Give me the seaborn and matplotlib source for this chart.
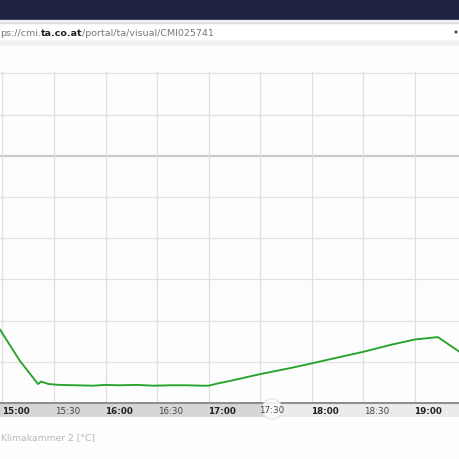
import matplotlib
matplotlib.use("Agg")
import matplotlib.pyplot as plt
import seaborn as sns
import pandas as pd
from matplotlib.patches import Rectangle, Circle

# ---- data (minutes after 15:00, temperature °C) ----
minutes = [-9.3, 2.3, 12.8, 14.6, 19, 25, 35, 45, 52, 60, 70, 80, 90, 100, 108,
           112, 118, 124, 142, 160, 172, 189, 202, 218, 232, 245.6, 259]
temps = [-21.1, -24.9, -27.7, -27.4, -27.7, -27.8, -27.85, -27.9, -27.8, -27.85,
         -27.8, -27.9, -27.85, -27.85, -27.9, -27.9, -27.6, -27.35, -26.5, -25.75,
         -25.2, -24.4, -23.8, -22.95, -22.3, -22.0, -23.9]
tick_pos = [0, 30, 60, 90, 120, 150, 180, 210, 240]
tick_labels = ["15:00", "15:30", "16:00", "16:30", "17:00", "17:30", "18:00", "18:30", "19:00"]
tick_bold = [True, False, True, False, True, False, True, False, True]
y_grid = [-25, -20, -15, -10, -5, 0, 5, 10]
series_name = "Klimakammer 2 [°C]"
url_a = "ps://cmi."
url_b = "ta.co.at"
url_c = "/portal/ta/visual/CMI025741"

df = pd.DataFrame({"min": minutes, "temp": temps})

W = H = 460
fig = plt.figure(figsize=(4.6, 4.6), dpi=100)
fig.patch.set_facecolor("#fdfdfd")

def fy(ypx):
    return 1 - ypx / H

# header
fig.add_artist(Rectangle((0, fy(20)), 1, 20 / H, transform=fig.transFigure,
                         facecolor="#1f2342", edgecolor="none"))
fig.add_artist(Rectangle((0, fy(21)), 1, 1 / H, transform=fig.transFigure,
                         facecolor="#3a3f5c", edgecolor="none"))
fig.add_artist(Rectangle((0, fy(24)), 1, 3 / H, transform=fig.transFigure,
                         facecolor="#eeeeee", edgecolor="none"))
fig.add_artist(Rectangle((-0.01, fy(42)), 1.02, 18 / H, transform=fig.transFigure,
                         facecolor="#ffffff", edgecolor="#d8d8d8", linewidth=1))
fig.add_artist(Rectangle((0, fy(47)), 1, 5 / H, transform=fig.transFigure,
                         facecolor="#f1f1f1", edgecolor="none"))
t1 = fig.text(0.0, fy(33.5), url_a, fontsize=6.8, color="#777777", va="center",
              family="DejaVu Sans")
fig.canvas.draw()
r = fig.canvas.get_renderer()
x1 = t1.get_window_extent(r).x1 / W
t2 = fig.text(x1, fy(33.5), url_b, fontsize=6.8, color="#222222", va="center",
              weight="bold", family="DejaVu Sans")
x2 = t2.get_window_extent(r).x1 / W
fig.text(x2, fy(33.5), url_c, fontsize=6.8, color="#777777", va="center",
         family="DejaVu Sans")
fig.add_artist(Circle((456 / W, fy(33)), 1.5 / W, transform=fig.transFigure,
                      facecolor="#444444", edgecolor="none"))

# main plot
top_px, bot_px = 73, 404
ax = fig.add_axes([0, fy(bot_px), 1, (bot_px - top_px) / H])
ax.set_facecolor("#fdfdfd")
xmin, xmax = -9.33, 258.5
ymin = -30
ymax = ymin + (bot_px - top_px) / 41.2 * 5
ax.set_xlim(xmin, xmax)
ax.set_ylim(ymin, ymax)
for v in y_grid:
    if v == 0:
        ax.axhline(v, color="#c9c9c9", lw=1.6, zorder=1)
    else:
        ax.axhline(v, color="#e1e1e1", lw=0.9, zorder=1, clip_on=False)
for p in tick_pos:
    ax.axvline(p - 7.9, color="#dfdfdf", lw=0.9, zorder=1)
sns.lineplot(data=df, x="min", y="temp", ax=ax, color="#26a32a", lw=1.35, zorder=3)
ax.set_xlabel("")
ax.set_ylabel("")
ax.set_xticks([])
ax.set_yticks([])
for s in ax.spines.values():
    s.set_visible(False)

# x-axis band
bax = fig.add_axes([0, fy(418), 1, 15 / H])
bax.set_xlim(xmin, xmax)
bax.set_ylim(0, 1)
handle_x = 150.5
bax.axvspan(xmin, handle_x, color="#d6d6d6", lw=0)
bax.axvspan(handle_x, xmax, color="#ebebeb", lw=0)
bax.axhline(1, color="#8e8e8e", lw=2.2)
for i, (p, lab, b) in enumerate(zip(tick_pos, tick_labels, tick_bold)):
    if i == 5:
        continue
    bax.text(p, 0.45, lab, ha="center", va="center", fontsize=6.3,
             weight="bold" if b else "normal", color="#222222" if b else "#444444",
             family="DejaVu Sans", zorder=5)
bax.set_xticks([])
bax.set_yticks([])
for s in bax.spines.values():
    s.set_visible(False)
fig.add_artist(Circle((272 / W, fy(410)), 10 / W, transform=fig.transFigure,
                      facecolor="#ffffff", edgecolor="#dddddd", linewidth=0.8,
                      alpha=0.85, zorder=4))
fig.text(272 / W, fy(411), tick_labels[5], ha="center", va="center", fontsize=6.3,
         color="#444444", family="DejaVu Sans", zorder=6)

fig.text(1 / W, fy(438), series_name, fontsize=6.6, color="#b8b8b8", va="center",
         family="DejaVu Sans")

fig.savefig("out.png", dpi=100, facecolor=fig.get_facecolor())
